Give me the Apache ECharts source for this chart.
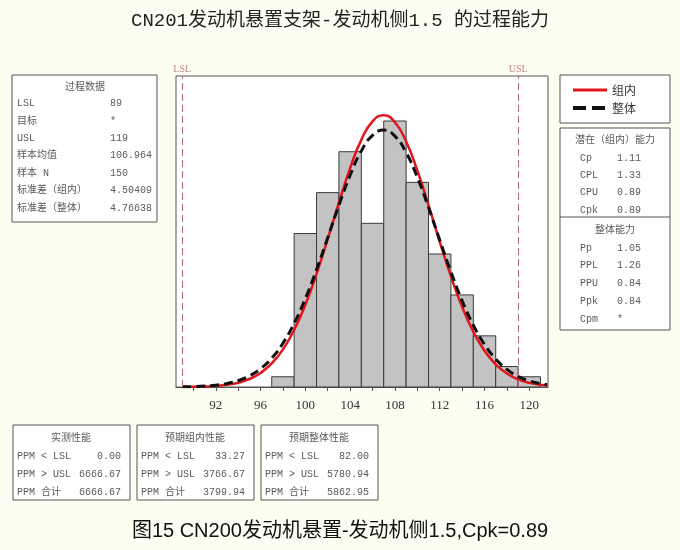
<!DOCTYPE html>
<html>
<head>
<meta charset="utf-8">
<script src="https://cdn.jsdelivr.net/npm/echarts@6/dist/echarts.min.js"></script>
<style>
html,body{margin:0;padding:0;background:#fefdf2;}
#c{width:680px;height:550px;}
</style>
</head>
<body>
<div id="c"></div>
<script>
// ---- data ----
const titleText = 'CN201发动机悬置支架-发动机侧1.5 的过程能力';
const captionText = '图15 CN200发动机悬置-发动机侧1.5,Cpk=0.89';
const LSL = 89;
const USL = 119;
// histogram bins: [start, end, count]
const binStarts = [97, 99, 101, 103, 105, 107, 109, 111, 113, 115, 117, 119];
const binWidth = 2;
const binCounts = [1, 15, 19, 23, 16, 26, 20, 13, 9, 5, 2, 1];
// fitted curves (counts per bin)
const curveX = [89, 90, 91, 92, 93, 94, 95, 96, 97, 98, 99, 100, 101, 102, 103, 104, 105, 106, 107, 108, 109, 110, 111, 112, 113, 114, 115, 116, 117, 118, 119, 120, 121, 121.6];
const withinY = [0.01, 0.02, 0.05, 0.11, 0.22, 0.42, 0.78, 1.37, 2.30, 3.67, 5.57, 8.04, 11.06, 14.48, 18.04, 21.40, 24.16, 25.97, 26.57, 25.88, 23.99, 21.17, 17.78, 14.22, 10.83, 7.84, 5.41, 3.55, 2.22, 1.32, 0.75, 0.40, 0.21, 0.14];
const overallY = [0.02, 0.04, 0.09, 0.18, 0.34, 0.62, 1.08, 1.78, 2.82, 4.28, 6.22, 8.64, 11.48, 14.60, 17.77, 20.70, 23.07, 24.60, 25.11, 24.52, 22.92, 20.50, 17.55, 14.37, 11.26, 8.45, 6.06, 4.16, 2.74, 1.72, 1.04, 0.60, 0.33, 0.23];
const xTickValues = [90, 92, 94, 96, 98, 100, 102, 104, 106, 108, 110, 112, 114, 116, 118, 120];
const xLabelValues = [92, 96, 100, 104, 108, 112, 116, 120];
const seriesNames = ['组内', '整体'];

const processTitle = '过程数据';
const processData = [['LSL', '89'], ['目标', '*'], ['USL', '119'], ['样本均值', '106.964'], ['样本 N', '150'], ['标准差（组内）', '4.50409'], ['标准差（整体）', '4.76638']];
const withinTitle = '潜在（组内）能力';
const withinCap = [['Cp', '1.11'], ['CPL', '1.33'], ['CPU', '0.89'], ['Cpk', '0.89']];
const overallTitle = '整体能力';
const overallCap = [['Pp', '1.05'], ['PPL', '1.26'], ['PPU', '0.84'], ['Ppk', '0.84'], ['Cpm', '*']];
const perfTitles = ['实测性能', '预期组内性能', '预期整体性能'];
const observedPerf = [['PPM < LSL', '0.00'], ['PPM > USL', '6666.67'], ['PPM 合计', '6666.67']];
const expWithinPerf = [['PPM < LSL', '33.27'], ['PPM > USL', '3766.67'], ['PPM 合计', '3799.94']];
const expOverallPerf = [['PPM < LSL', '82.00'], ['PPM > USL', '5780.94'], ['PPM 合计', '5862.95']];

// ---- build ----
const MONO = "'Liberation Mono','Noto Sans CJK SC',monospace";
const TXT = '#5a5a5a';
const g = [];
function rect(x, y, w, h) {
  g.push({type: 'rect', shape: {x: x, y: y, width: w, height: h}, style: {fill: '#fff', stroke: '#555', lineWidth: 1}, z: 1});
}
function line(x1, y1, x2, y2) {
  g.push({type: 'line', shape: {x1: x1, y1: y1, x2: x2, y2: y2}, style: {stroke: '#555', lineWidth: 1}, z: 2});
}
function text(s, x, y, align) {
  g.push({type: 'text', x: x, y: y, z: 3, style: {text: s, font: '10px ' + MONO, fill: TXT, textAlign: align || 'left', textVerticalAlign: 'middle'}});
}
// left process data box
rect(12, 75, 145, 147);
text(processTitle, 85, 87, 'center');
processData.forEach((r, i) => { text(r[0], 17, 103.5 + i * 17.4); text(r[1], 110, 103.5 + i * 17.4); });
// right capability box
rect(560, 128, 110, 202);
line(560, 217, 670, 217);
text(withinTitle, 615, 140, 'center');
withinCap.forEach((r, i) => { text(r[0], 580, 158 + i * 17.3); text(r[1], 617, 158 + i * 17.3); });
text(overallTitle, 615, 230, 'center');
overallCap.forEach((r, i) => { text(r[0], 580, 248 + i * 17.8); text(r[1], 617, 248 + i * 17.8); });
// legend box
rect(560, 75, 110, 48);
// bottom perf boxes
const perfBoxes = [[13, observedPerf], [137, expWithinPerf], [261, expOverallPerf]];
perfBoxes.forEach((b, k) => {
  const x = b[0];
  rect(x, 425, 117, 75);
  text(perfTitles[k], x + 58, 438, 'center');
  b[1].forEach((r, i) => { text(r[0], x + 4, 456 + i * 18); text(r[1], x + 108, 456 + i * 18, 'right'); });
});

const barData = binStarts.map((s, i) => [s, s + binWidth, binCounts[i]]);
const within = curveX.map((x, i) => [x, withinY[i]]);
const overall = curveX.map((x, i) => [x, overallY[i]]);

const chart = echarts.init(document.getElementById('c'), null, {renderer: 'canvas'});
chart.setOption({
  backgroundColor: '#fefdf2',
  animation: false,
  title: [
    {text: titleText, left: 'center', top: 6, textStyle: {fontFamily: "'Liberation Mono','Noto Sans CJK SC'", fontSize: 19, fontWeight: 'normal', color: '#222'}},
    {text: captionText, left: 'center', top: 516, textStyle: {fontFamily: "'Liberation Sans','Noto Sans CJK SC'", fontSize: 20, fontWeight: 'normal', color: '#111'}}
  ],
  grid: {left: 176, top: 76, right: 132, bottom: 163, show: true, backgroundColor: '#fff', borderColor: '#555', borderWidth: 1},
  legend: {
    orient: 'vertical', left: 566, top: 79, itemWidth: 34, itemHeight: 14, itemGap: 6,
    data: [
      {name: seriesNames[0], lineStyle: {width: 3}},
      {name: seriesNames[1], lineStyle: {width: 4, type: [13, 6]}}
    ],
    itemStyle: {opacity: 0},
    textStyle: {fontFamily: "'Noto Sans CJK SC'", fontSize: 12, color: '#333'}
  },
  xAxis: {
    type: 'value', min: 88.45, max: 121.67,
    axisLine: {show: true, lineStyle: {color: '#555'}},
    axisTick: {show: true, length: 4, customValues: xTickValues, lineStyle: {color: '#555'}},
    axisLabel: {customValues: xLabelValues, margin: 12, fontFamily: "'Liberation Serif'", fontSize: 13, color: '#333'},
    splitLine: {show: false}
  },
  yAxis: {type: 'value', min: 0, max: 30.4, show: false, splitLine: {show: false}},
  series: [
    {
      type: 'custom', name: 'hist', data: barData, z: 2,
      renderItem: function (params, api) {
        const p0 = api.coord([api.value(0), 0]);
        const p1 = api.coord([api.value(1), api.value(2)]);
        return {type: 'rect', shape: {x: p0[0], y: p1[1], width: p1[0] - p0[0], height: p0[1] - p1[1]}, style: {fill: '#c3c3c3', stroke: '#3a3a3a', lineWidth: 1}};
      },
      markLine: {
        silent: true, symbol: 'none',
        lineStyle: {color: '#b06a78', type: [7, 4], width: 1},
        label: {position: 'end', formatter: function (p) { return p.name; }, color: '#c08888', fontFamily: "'Liberation Serif'", fontSize: 10, distance: 2},
        data: [{name: 'LSL', xAxis: LSL}, {name: 'USL', xAxis: USL}]
      }
    },
    {name: seriesNames[0], type: 'line', data: within, smooth: true, symbol: 'none', z: 3, lineStyle: {color: '#e2141c', width: 2.5}, itemStyle: {color: '#e2141c'}},
    {name: seriesNames[1], type: 'line', data: overall, smooth: true, symbol: 'none', z: 4, lineStyle: {color: '#111', width: 3, type: [9, 5]}, itemStyle: {color: '#111'}}
  ],
  graphic: g
});
</script>
</body>
</html>
